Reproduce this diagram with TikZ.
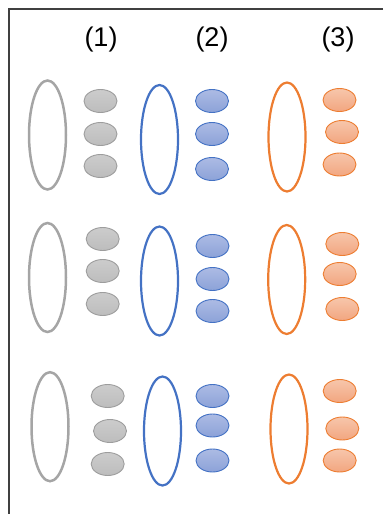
\documentclass[tikz,border=0pt]{standalone}
\usepackage{fontspec}
\setmainfont{Liberation Sans}
\usetikzlibrary{shapes.geometric}

\definecolor{grayline}{HTML}{A5A5A5}
\definecolor{blueline}{HTML}{4472C4}
\definecolor{orangeline}{HTML}{ED7D31}

\begin{document}
\begin{tikzpicture}[
  x=1pt, y=-1pt,
  lbl/.style={font=\fontsize{27}{30}\selectfont, inner sep=0pt},
  ring/.style={draw, ellipse, line width=2.2pt, inner sep=0pt,
               minimum width=37pt, minimum height=109pt},
  dot/.style={draw, ellipse, line width=0.9pt, inner sep=0pt,
              minimum width=33pt, minimum height=23pt},
  grayring/.style={ring, draw=grayline, line width=2.5pt},
  bluering/.style={ring, draw=blueline},
  orangering/.style={ring, draw=orangeline},
  graydot/.style={dot, draw=grayline!95!black, top color=gray!40, bottom color=gray!52},
  bluedot/.style={dot, draw=blueline, top color={rgb,255:red,172;green,187;blue,228},
                  bottom color={rgb,255:red,140;green,162;blue,216}},
  orangedot/.style={dot, draw=orangeline, top color={rgb,255:red,247;green,198;blue,171},
                    bottom color={rgb,255:red,242;green,166;blue,128}}
]
\useasboundingbox (0,0) rectangle (383,514);
% frame
\draw[line width=2pt, black!75] (383,9.3) -- (8.7,9.3) -- (8.7,514);
% column titles
\node[lbl] (t1) at (101,40) {(1)};
\node[lbl] (t2) at (212,40) {(2)};
\node[lbl] (t3) at (338,40) {(3)};
% row 1
\node[grayring] (r1a) at (47.5,135) {};
\foreach \x/\y [count=\i] in {100.5/101, 100.5/134, 100.5/166}
  \node[graydot] (r1a\i) at (\x,\y) {};
\node[bluering] (r1b) at (159.5,139.5) {};
\foreach \x/\y [count=\i] in {212/101, 212/134, 212/169}
  \node[bluedot] (r1b\i) at (\x,\y) {};
\node[orangering] (r1c) at (287,137) {};
\foreach \x/\y [count=\i] in {339.5/100, 342/132, 339.5/164.5}
  \node[orangedot] (r1c\i) at (\x,\y) {};
% row 2
\node[grayring] (r2a) at (47.5,277.5) {};
\foreach \x/\y [count=\i] in {102.7/239, 102.7/271, 102.7/304}
  \node[graydot] (r2a\i) at (\x,\y) {};
\node[bluering] (r2b) at (159.5,281) {};
\foreach \x/\y [count=\i] in {212.5/246, 212.5/279, 212.5/311}
  \node[bluedot] (r2b\i) at (\x,\y) {};
\node[orangering] (r2c) at (286.7,279.5) {};
\foreach \x/\y [count=\i] in {342.3/244, 339.7/274, 342.3/309}
  \node[orangedot] (r2c\i) at (\x,\y) {};
% row 3
\node[grayring] (r3a) at (50,426.7) {};
\foreach \x/\y [count=\i] in {107.7/396, 110/431, 107.7/464}
  \node[graydot] (r3a\i) at (\x,\y) {};
\node[bluering] (r3b) at (162.5,431) {};
\foreach \x/\y [count=\i] in {212.5/396, 212.5/425.5, 212.5/460.5}
  \node[bluedot] (r3b\i) at (\x,\y) {};
\node[orangering] (r3c) at (289,429) {};
\foreach \x/\y [count=\i] in {339.7/391, 342.3/428.5, 339.7/460.5}
  \node[orangedot] (r3c\i) at (\x,\y) {};
\end{tikzpicture}
\end{document}
